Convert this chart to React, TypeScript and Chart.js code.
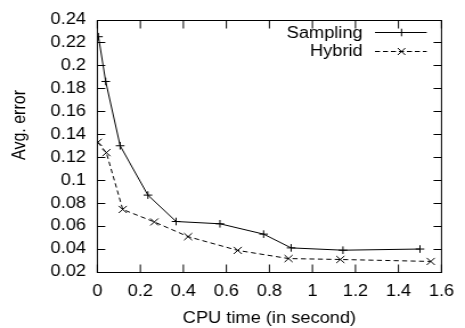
import React, { useEffect, useRef } from "react";
import { Chart, registerables } from "chart.js";

Chart.register(...registerables);

// ---- data ----
const samplingX = [0.005, 0.039, 0.106, 0.235, 0.366, 0.57, 0.773, 0.901, 1.142, 1.5];
const samplingY = [0.225, 0.186, 0.13, 0.087, 0.064, 0.062, 0.053, 0.041, 0.039, 0.04];
const hybridX = [0.002, 0.042, 0.118, 0.265, 0.422, 0.653, 0.889, 1.13, 1.55];
const hybridY = [0.133, 0.124, 0.0745, 0.0636, 0.0508, 0.0388, 0.0317, 0.0309, 0.0292];
const xTicks = [0, 0.2, 0.4, 0.6, 0.8, 1, 1.2, 1.4, 1.6];
const yTicks = [0.02, 0.04, 0.06, 0.08, 0.1, 0.12, 0.14, 0.16, 0.18, 0.2, 0.22, 0.24];
const seriesNames = ["Sampling", "Hybrid"];
const xTitle = "CPU time (in second)";
const yTitle = "Avg. error";

// ---- layout ----
const W = 408;
const H = 328;
const STRETCH = 465 / W;
const FONT = "'Liberation Sans', Arial, Helvetica, sans-serif";
const FONT_SIZE = 16;

const fmt = (v: number) => String(parseFloat(Number(v).toFixed(2)));

const framePlugin = {
  id: "gnuplotFrame",
  afterDatasetsDraw(chart: any) {
    const ctx = chart.ctx as CanvasRenderingContext2D;
    const { left, right, top, bottom } = chart.chartArea;
    const xs = chart.scales.x;
    const ys = chart.scales.y;
    ctx.save();
    ctx.strokeStyle = "#000";
    ctx.lineWidth = 1;
    ctx.setLineDash([]);
    const T = Math.round(top) + 0.5;
    const B = Math.round(bottom) + 0.5;
    ctx.strokeRect(left, T, right - left, B - T);
    ctx.beginPath();
    xTicks.forEach((v) => {
      const px = xs.getPixelForValue(v);
      ctx.moveTo(px, B);
      ctx.lineTo(px, B - 8);
      ctx.moveTo(px, T);
      ctx.lineTo(px, T + 8);
    });
    yTicks.forEach((v) => {
      const py = Math.round(ys.getPixelForValue(v)) + 0.5;
      ctx.moveTo(left, py);
      ctx.lineTo(left + 7, py);
      ctx.moveTo(right, py);
      ctx.lineTo(right - 7, py);
    });
    ctx.stroke();

    // axis titles
    ctx.fillStyle = "#000";
    ctx.font = `${FONT_SIZE}px ${FONT}`;
    ctx.textAlign = "center";
    ctx.textBaseline = "alphabetic";
    ctx.fillText(xTitle, (left + right) / 2, 323);
    ctx.save();
    ctx.translate(21.9, 125);
    ctx.rotate(-Math.PI / 2);
    ctx.fillText(yTitle, 0, 0);
    ctx.restore();

    // legend
    const rows = [
      { name: seriesNames[0], y: 32.5, base: 37.6, dash: [] as number[], mark: "plus" },
      { name: seriesNames[1], y: 51.5, base: 56.3, dash: [4.4, 2.6], mark: "x" },
    ];
    const lx0 = 329;
    const lx1 = 374.4;
    const mx = 352.3;
    rows.forEach((r) => {
      ctx.textAlign = "right";
      ctx.fillText(r.name, 318.2, r.base);
      ctx.setLineDash(r.dash);
      ctx.beginPath();
      ctx.moveTo(lx0, r.y);
      ctx.lineTo(lx1, r.y);
      ctx.stroke();
      ctx.setLineDash([]);
      ctx.beginPath();
      if (r.mark === "plus") {
        ctx.moveTo(mx - 3.4, r.y);
        ctx.lineTo(mx + 3.4, r.y);
        ctx.moveTo(mx, r.y - 3.8);
        ctx.lineTo(mx, r.y + 3.8);
      } else {
        ctx.moveTo(mx - 3.3, r.y - 3.5);
        ctx.lineTo(mx + 3.3, r.y + 3.5);
        ctx.moveTo(mx - 3.3, r.y + 3.5);
        ctx.lineTo(mx + 3.3, r.y - 3.5);
      }
      ctx.stroke();
    });
    ctx.restore();
  },
};

export default function App() {
  const ref = useRef<HTMLCanvasElement | null>(null);

  useEffect(() => {
    if (!ref.current) return;
    const chart = new Chart(ref.current, {
      type: "line",
      data: {
        datasets: [
          {
            label: seriesNames[0],
            data: samplingX.map((x, i) => ({ x, y: samplingY[i] })),
            borderColor: "#000",
            borderWidth: 1,
            pointStyle: "cross",
            pointRadius: 3.8,
            pointBorderColor: "#000",
            pointBackgroundColor: "#000",
            pointBorderWidth: 1,
            fill: false,
            tension: 0,
          },
          {
            label: seriesNames[1],
            data: hybridX.map((x, i) => ({ x, y: hybridY[i] })),
            borderColor: "#000",
            borderWidth: 1,
            borderDash: [4.4, 3],
            pointStyle: "crossRot",
            pointRadius: 5,
            pointBorderColor: "#000",
            pointBackgroundColor: "#000",
            pointBorderWidth: 1,
            fill: false,
            tension: 0,
          },
        ],
      },
      options: {
        animation: false,
        responsive: false,
        devicePixelRatio: 1,
        layout: { padding: { top: 15, right: 11.7, left: 0, bottom: 0 } },
        plugins: { legend: { display: false }, tooltip: { enabled: false } },
        scales: {
          x: {
            type: "linear",
            min: 0,
            max: 1.6,
            grid: { display: false, drawTicks: false },
            border: { display: false },
            afterBuildTicks: (s: any) => {
              s.ticks = xTicks.map((v) => ({ value: v }));
            },
            afterFit: (s: any) => {
              s.height = 56;
            },
            ticks: {
              padding: 9.5,
              color: "#000",
              autoSkip: false,
              maxRotation: 0,
              font: { family: FONT, size: FONT_SIZE },
              callback: (v: any) => fmt(v),
            },
          },
          y: {
            type: "linear",
            min: 0.02,
            max: 0.24,
            grid: { display: false, drawTicks: false },
            border: { display: false },
            afterBuildTicks: (s: any) => {
              s.ticks = yTicks.map((v) => ({ value: v }));
            },
            afterFit: (s: any) => {
              s.width = 85.4;
            },
            ticks: {
              padding: 9.9,
              color: "#000",
              autoSkip: false,
              font: { family: FONT, size: FONT_SIZE },
              callback: (v: any) => fmt(v),
            },
          },
        },
      },
      plugins: [framePlugin],
    });
    return () => chart.destroy();
  }, []);

  return (
    <div
      style={{
        position: "fixed",
        left: 0,
        top: 0,
        width: 465,
        height: 328,
        overflow: "hidden",
        background: "#fff",
      }}
    >
      <canvas
        ref={ref}
        width={W}
        height={H}
        style={{
          display: "block",
          width: W,
          height: H,
          transform: `scaleX(${STRETCH})`,
          transformOrigin: "0 0",
        }}
      />
    </div>
  );
}
